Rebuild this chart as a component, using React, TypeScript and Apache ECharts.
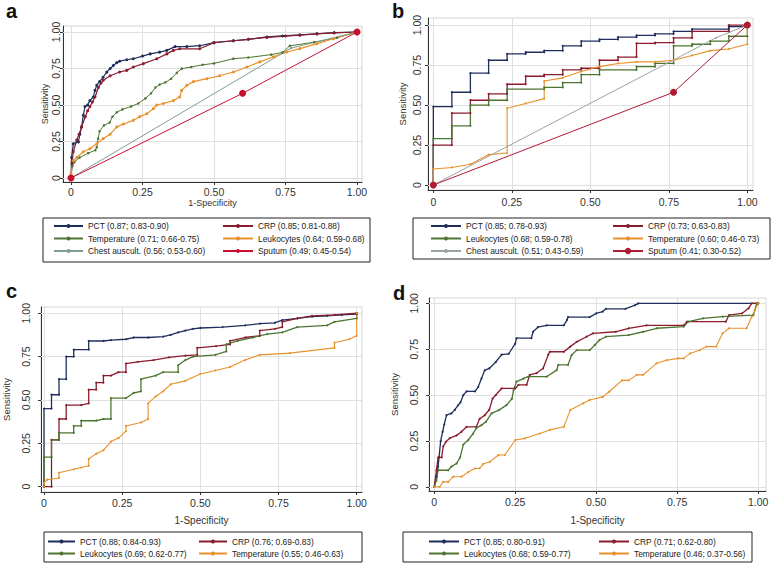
import React, { useEffect, useRef } from "react";
import * as echarts from "echarts";

type P = [number, number];

const FONT = "'Liberation Sans', Arial, Helvetica, sans-serif";

const tickValues = [0, 0.25, 0.5, 0.75, 1];
const tickLabels = ["0", "0.25", "0.50", "0.75", "1.00"];
const xTitle = "1-Specificity";
const yTitle = "Sensitivity";

// ---------- Panel a ----------
const aNames = [
  "PCT (0.87; 0.83-0.90)",
  "CRP (0.85; 0.81-0.88)",
  "Temperature (0.71; 0.66-0.75)",
  "Leukocytes (0.64; 0.59-0.68)",
  "Chest auscult. (0.56; 0.53-0.60)",
  "Sputum (0.49; 0.45-0.54)",
];
const aPCT: P[] = [[0,0],[0.002,0.14],[0.008,0.235],[0.026,0.247],[0.031,0.3],[0.037,0.35],[0.043,0.43],[0.049,0.49],[0.058,0.5],[0.066,0.53],[0.078,0.555],[0.084,0.6],[0.09,0.635],[0.1,0.66],[0.112,0.69],[0.125,0.725],[0.137,0.75],[0.148,0.77],[0.16,0.79],[0.17,0.8],[0.195,0.81],[0.218,0.817],[0.25,0.835],[0.277,0.85],[0.31,0.862],[0.335,0.874],[0.364,0.9],[0.405,0.9],[0.45,0.906],[0.5,0.927],[0.568,0.94],[0.62,0.95],[0.685,0.966],[0.74,0.973],[0.8,0.98],[0.86,0.988],[0.92,0.995],[1,1]];
const aCRP: P[] = [[0,0],[0.003,0.1],[0.008,0.18],[0.02,0.26],[0.028,0.3],[0.037,0.35],[0.05,0.42],[0.058,0.46],[0.066,0.49],[0.075,0.52],[0.084,0.555],[0.096,0.62],[0.105,0.65],[0.113,0.67],[0.137,0.7],[0.17,0.726],[0.195,0.737],[0.218,0.76],[0.253,0.783],[0.3,0.817],[0.335,0.85],[0.358,0.874],[0.38,0.885],[0.45,0.885],[0.5,0.927],[0.568,0.94],[0.62,0.95],[0.685,0.963],[0.75,0.972],[0.8,0.978],[0.86,0.987],[0.92,0.994],[1,1]];
const aTemp: P[] = [[0,0.02],[0.005,0.08],[0.012,0.11],[0.03,0.14],[0.06,0.17],[0.085,0.19],[0.09,0.21],[0.095,0.27],[0.1,0.32],[0.115,0.36],[0.135,0.38],[0.145,0.42],[0.16,0.45],[0.18,0.47],[0.21,0.49],[0.235,0.51],[0.26,0.545],[0.28,0.58],[0.295,0.62],[0.31,0.64],[0.33,0.655],[0.35,0.68],[0.37,0.72],[0.387,0.749],[0.42,0.76],[0.46,0.775],[0.5,0.785],[0.568,0.817],[0.62,0.825],[0.7,0.845],[0.74,0.86],[0.765,0.905],[0.85,0.93],[0.93,0.96],[1,1]];
const aLeuk: P[] = [[0,0.03],[0.008,0.12],[0.02,0.14],[0.043,0.18],[0.066,0.2],[0.09,0.235],[0.113,0.27],[0.137,0.3],[0.16,0.35],[0.183,0.37],[0.218,0.395],[0.24,0.42],[0.265,0.44],[0.288,0.475],[0.3,0.5],[0.323,0.51],[0.358,0.53],[0.38,0.555],[0.387,0.6],[0.405,0.635],[0.428,0.66],[0.475,0.68],[0.52,0.7],[0.568,0.726],[0.615,0.76],[0.66,0.795],[0.708,0.83],[0.755,0.863],[0.8,0.886],[0.86,0.92],[0.918,0.954],[1,1]];
const aChest: P[] = [[0,0],[0.77,0.89],[1,1]];
const aSputum: P[] = [[0,0],[0.6,0.58],[1,1]];

// ---------- Panel b ----------
const bNames = [
  "PCT (0.85; 0.78-0.93)",
  "CRP (0.73; 0.63-0.83)",
  "Leukocytes (0.68; 0.59-0.78)",
  "Temperature (0.60; 0.46-0.73)",
  "Chest auscult. (0.51; 0.43-0.59)",
  "Sputum (0.41; 0.30-0.52)",
];
const bPCT: P[] = [[0,0],[0,0.49],[0.059,0.49],[0.059,0.58],[0.118,0.58],[0.118,0.7],[0.176,0.7],[0.176,0.78],[0.235,0.78],[0.235,0.82],[0.294,0.82],[0.294,0.83],[0.353,0.83],[0.353,0.84],[0.412,0.84],[0.412,0.87],[0.471,0.87],[0.471,0.9],[0.529,0.9],[0.529,0.91],[0.588,0.91],[0.588,0.925],[0.647,0.925],[0.647,0.935],[0.706,0.935],[0.706,0.945],[0.765,0.945],[0.765,0.96],[0.824,0.96],[0.824,0.975],[0.941,0.975],[0.941,0.99],[1,0.99],[1,1]];
const bCRP: P[] = [[0,0],[0,0.25],[0.059,0.25],[0.059,0.45],[0.118,0.45],[0.118,0.53],[0.176,0.53],[0.176,0.57],[0.235,0.57],[0.235,0.63],[0.294,0.63],[0.294,0.68],[0.353,0.68],[0.353,0.69],[0.412,0.69],[0.412,0.72],[0.471,0.72],[0.471,0.73],[0.529,0.73],[0.529,0.78],[0.588,0.78],[0.588,0.8],[0.647,0.8],[0.647,0.885],[0.706,0.885],[0.706,0.89],[0.765,0.89],[0.765,0.92],[0.824,0.92],[0.824,0.96],[0.941,0.96],[0.941,1],[1,1]];
const bLeuk: P[] = [[0,0],[0,0.29],[0.059,0.29],[0.059,0.37],[0.118,0.37],[0.118,0.5],[0.176,0.5],[0.176,0.53],[0.235,0.53],[0.235,0.6],[0.353,0.6],[0.353,0.61],[0.412,0.61],[0.412,0.64],[0.471,0.64],[0.471,0.69],[0.529,0.69],[0.529,0.72],[0.647,0.72],[0.647,0.74],[0.706,0.74],[0.706,0.76],[0.765,0.76],[0.765,0.87],[0.824,0.87],[0.824,0.88],[0.882,0.88],[0.882,0.9],[0.941,0.9],[0.941,0.93],[1,0.93],[1,1]];
const bTemp: P[] = [[0,0],[0,0.1],[0.059,0.11],[0.118,0.13],[0.176,0.19],[0.235,0.2],[0.235,0.48],[0.294,0.51],[0.353,0.54],[0.353,0.65],[0.412,0.67],[0.471,0.71],[0.529,0.74],[0.588,0.76],[0.647,0.77],[0.706,0.77],[0.765,0.78],[0.824,0.81],[0.882,0.84],[0.941,0.85],[1,0.88],[1,1]];
const bChest: P[] = [[0,0],[0.9,0.92],[1,1]];
const bSputum: P[] = [[0,0],[0.765,0.58],[1,1]];

// ---------- Panel c ----------
const cNames = [
  "PCT (0.88; 0.84-0.93)",
  "CRP (0.76; 0.69-0.83)",
  "Leukocytes (0.69; 0.62-0.77)",
  "Temperature (0.55; 0.46-0.63)",
];
const cPCT: P[] = [[0,0],[0,0.45],[0.024,0.45],[0.024,0.53],[0.048,0.53],[0.048,0.62],[0.071,0.62],[0.071,0.75],[0.095,0.75],[0.095,0.79],[0.143,0.79],[0.143,0.84],[0.19,0.84],[0.214,0.845],[0.262,0.85],[0.286,0.86],[0.333,0.86],[0.381,0.865],[0.405,0.875],[0.429,0.89],[0.452,0.9],[0.476,0.91],[0.5,0.915],[0.571,0.92],[0.643,0.93],[0.69,0.94],[0.738,0.945],[0.762,0.96],[0.81,0.97],[0.857,0.98],[0.905,0.985],[0.952,0.99],[1,0.995],[1,1]];
const cCRP: P[] = [[0,0],[0.024,0],[0.024,0.27],[0.048,0.27],[0.048,0.39],[0.071,0.39],[0.071,0.47],[0.119,0.47],[0.143,0.48],[0.143,0.56],[0.167,0.56],[0.167,0.6],[0.19,0.6],[0.19,0.64],[0.214,0.64],[0.238,0.66],[0.262,0.66],[0.262,0.71],[0.3,0.72],[0.35,0.73],[0.4,0.745],[0.452,0.755],[0.49,0.76],[0.49,0.8],[0.55,0.81],[0.595,0.82],[0.595,0.84],[0.643,0.86],[0.69,0.87],[0.69,0.9],[0.738,0.91],[0.762,0.92],[0.762,0.95],[0.81,0.97],[0.857,0.985],[0.929,0.99],[1,1]];
const cLeuk: P[] = [[0,0],[0,0.17],[0.024,0.17],[0.024,0.27],[0.048,0.27],[0.048,0.31],[0.095,0.31],[0.095,0.35],[0.119,0.35],[0.119,0.38],[0.167,0.38],[0.19,0.39],[0.214,0.39],[0.214,0.51],[0.262,0.51],[0.286,0.54],[0.31,0.55],[0.31,0.62],[0.357,0.64],[0.381,0.66],[0.429,0.66],[0.429,0.7],[0.452,0.73],[0.476,0.75],[0.548,0.76],[0.583,0.78],[0.583,0.82],[0.619,0.84],[0.667,0.86],[0.714,0.88],[0.762,0.89],[0.81,0.92],[0.905,0.93],[0.929,0.95],[1,0.97],[1,1]];
const cTemp: P[] = [[0,0],[0,0.02],[0.01,0.04],[0.048,0.05],[0.048,0.08],[0.095,0.1],[0.119,0.11],[0.143,0.12],[0.143,0.16],[0.167,0.19],[0.19,0.21],[0.214,0.26],[0.238,0.28],[0.262,0.32],[0.262,0.35],[0.31,0.37],[0.333,0.39],[0.333,0.48],[0.357,0.52],[0.381,0.55],[0.405,0.59],[0.452,0.61],[0.5,0.65],[0.548,0.67],[0.595,0.69],[0.643,0.73],[0.69,0.76],[0.786,0.77],[0.929,0.8],[0.929,0.83],[0.976,0.85],[1,0.87],[1,1]];

// ---------- Panel d ----------
const dNames = [
  "PCT (0.85; 0.80-0.91)",
  "CRP (0.71; 0.62-0.80)",
  "Leukocytes (0.68; 0.59-0.77)",
  "Temperature (0.46; 0.37-0.56)",
];
const dPCT: P[] = [[0,0],[0.007,0.055],[0.012,0.11],[0.015,0.16],[0.02,0.25],[0.026,0.3],[0.031,0.34],[0.038,0.39],[0.053,0.4],[0.064,0.42],[0.074,0.445],[0.081,0.46],[0.09,0.5],[0.1,0.52],[0.126,0.52],[0.136,0.545],[0.146,0.59],[0.156,0.635],[0.17,0.645],[0.19,0.68],[0.208,0.72],[0.23,0.725],[0.25,0.78],[0.254,0.81],[0.3,0.81],[0.305,0.845],[0.32,0.87],[0.347,0.88],[0.4,0.88],[0.41,0.91],[0.413,0.925],[0.48,0.925],[0.5,0.945],[0.52,0.955],[0.53,0.97],[0.59,0.97],[0.62,0.99],[0.63,1],[1,1]];
const dCRP: P[] = [[0,0],[0.007,0.09],[0.012,0.16],[0.023,0.16],[0.028,0.22],[0.036,0.245],[0.048,0.265],[0.069,0.28],[0.084,0.3],[0.1,0.327],[0.13,0.327],[0.14,0.37],[0.156,0.39],[0.17,0.42],[0.18,0.48],[0.19,0.5],[0.208,0.536],[0.25,0.536],[0.26,0.555],[0.285,0.555],[0.295,0.61],[0.316,0.62],[0.336,0.645],[0.352,0.72],[0.357,0.736],[0.4,0.736],[0.42,0.764],[0.44,0.79],[0.47,0.818],[0.49,0.836],[0.56,0.845],[0.6,0.864],[0.655,0.88],[0.77,0.88],[0.78,0.9],[0.9,0.9],[0.91,0.936],[0.95,0.945],[0.97,0.973],[0.98,1],[1,1]];
const dLeuk: P[] = [[0,0],[0.007,0.036],[0.012,0.09],[0.043,0.09],[0.053,0.11],[0.069,0.127],[0.08,0.16],[0.09,0.23],[0.105,0.255],[0.12,0.29],[0.13,0.32],[0.146,0.336],[0.16,0.355],[0.177,0.4],[0.2,0.418],[0.223,0.445],[0.24,0.48],[0.245,0.527],[0.254,0.573],[0.275,0.59],[0.29,0.6],[0.347,0.6],[0.378,0.636],[0.383,0.664],[0.413,0.664],[0.424,0.718],[0.44,0.745],[0.48,0.745],[0.496,0.773],[0.51,0.8],[0.53,0.818],[0.6,0.827],[0.645,0.845],[0.686,0.864],[0.77,0.873],[0.784,0.9],[0.83,0.918],[0.89,0.927],[0.985,0.936],[0.99,0.964],[0.995,1],[1,1]];
const dTemp: P[] = [[0,0],[0.017,0],[0.028,0.027],[0.043,0.027],[0.059,0.055],[0.084,0.055],[0.105,0.08],[0.126,0.1],[0.14,0.1],[0.151,0.124],[0.172,0.136],[0.198,0.173],[0.218,0.173],[0.25,0.255],[0.28,0.264],[0.326,0.29],[0.357,0.31],[0.4,0.327],[0.42,0.418],[0.46,0.455],[0.48,0.473],[0.52,0.49],[0.54,0.518],[0.58,0.58],[0.6,0.58],[0.625,0.61],[0.645,0.61],[0.686,0.673],[0.717,0.69],[0.753,0.7],[0.77,0.7],[0.79,0.727],[0.82,0.745],[0.84,0.764],[0.87,0.764],[0.89,0.836],[0.91,0.864],[0.964,0.864],[0.98,0.927],[0.99,0.964],[1,1]];

const C = {
  navy: "#1f2f5c",
  maroon: "#8a1c2e",
  green: "#4d7531",
  orange: "#e8912a",
  teal: "#7f9f8e",
  red: "#c8102e",
  gray: "#9aa4a4",
  dkred: "#b01a32",
};

const TICK_FS = 10.5;
const LEG_FS = 8.4;

const fmt = (v: number) => {
  const i = tickValues.findIndex((t) => Math.abs(t - v) < 1e-6);
  return i >= 0 ? tickLabels[i] : "";
};

function xAx(gi: number, min: number, max: number, margin: number, name: string, nameGap: number, nameSize: number) {
  return {
    type: "value", gridIndex: gi, min, max,
    axisLine: { show: true, onZero: false, lineStyle: { color: "#333", width: 1 } },
    axisTick: { show: true, customValues: tickValues, length: 3, lineStyle: { color: "#333" } },
    axisLabel: { show: true, customValues: tickValues, formatter: fmt, fontSize: TICK_FS, color: "#333", margin, fontFamily: FONT },
    splitLine: { show: false },
    name, nameLocation: "middle", nameGap,
    nameTextStyle: { fontSize: nameSize, color: "#333", fontFamily: FONT },
  };
}
function yAx(gi: number, min: number, max: number, margin: number, nameGap: number, nameSize: number) {
  return {
    type: "value", gridIndex: gi, min, max,
    axisLine: { show: true, onZero: false, lineStyle: { color: "#333", width: 1 } },
    axisTick: { show: true, customValues: tickValues, length: 3, lineStyle: { color: "#333" } },
    axisLabel: { show: true, customValues: tickValues, formatter: fmt, fontSize: TICK_FS, color: "#333", margin, rotate: 90, fontFamily: FONT },
    splitLine: { show: false },
    name: yTitle, nameLocation: "middle", nameGap, nameRotate: 90,
    nameTextStyle: { fontSize: nameSize, color: "#333", fontFamily: FONT },
  };
}

function curve(name: string, data: P[], gi: number, color: string, width: number, sym: number) {
  return {
    type: "line", name, data, xAxisIndex: gi, yAxisIndex: gi,
    color, symbol: "circle", symbolSize: sym, showSymbol: true,
    lineStyle: { width, color }, itemStyle: { color }, z: 10, silent: true,
  };
}

function gridLines(gi: number) {
  return {
    type: "line", name: "gridlines" + gi, data: [[0.5, 0.5]], xAxisIndex: gi, yAxisIndex: gi,
    symbol: "none", lineStyle: { opacity: 0 }, z: 1, silent: true,
    markLine: {
      silent: true, symbol: ["none", "none"], label: { show: false },
      lineStyle: { color: "#e0e0e0", width: 1, type: "solid" },
      emphasis: { disabled: true },
      data: [
        ...tickValues.map((v) => ({ xAxis: v })),
        ...tickValues.map((v) => ({ yAxis: v })),
      ],
    },
  };
}

function legendCol(names: string[], left: number, top: number, itemWidth: number, lineHeight: number, itemHeight = 5) {
  return {
    orient: "vertical", left, top, padding: 0, itemGap: 0, itemWidth, itemHeight,
    selectedMode: false, data: names,
    textStyle: { fontSize: LEG_FS, color: "#222", fontFamily: FONT, lineHeight },
  };
}

function panelTitle(text: string, left: number, top: number) {
  return { text, left, top, padding: 0, textStyle: { fontSize: 20, fontWeight: "bold", color: "#111", fontFamily: FONT } };
}

function box(x: number, y: number, w: number, h: number) {
  return { type: "rect", silent: true, shape: { x, y, width: w, height: h }, style: { fill: "none", stroke: "#222", lineWidth: 1 } };
}

export default function App() {
  const ref = useRef<HTMLDivElement>(null);
  useEffect(() => {
    if (!ref.current) return;
    const chart = echarts.init(ref.current, undefined, { renderer: "svg" });
    const gridStyle = { show: true, borderColor: "#d6d6d6", borderWidth: 1, backgroundColor: "transparent" };
    const option: any = {
      animation: false,
      backgroundColor: "#ffffff",
      textStyle: { fontFamily: FONT },
      title: [
        panelTitle("a", 6, 1),
        panelTitle("b", 392, 1),
        panelTitle("c", 6, 281),
        panelTitle("d", 393, 283),
      ],
      grid: [
        { left: 63, top: 26, width: 299, height: 156, ...gridStyle },
        { left: 428, top: 18, width: 325, height: 172, ...gridStyle },
        { left: 41, top: 307, width: 321, height: 185, ...gridStyle },
        { left: 429, top: 298, width: 337, height: 193, ...gridStyle },
      ],
      xAxis: [
        xAx(0, -0.028, 1.0175, 4, xTitle, 16, 9),
        xAx(1, -0.017, 1.018, 6, "", 20, 9.5),
        xAx(2, -0.0096, 1.017, 5, xTitle, 23, 10),
        xAx(3, -0.016, 1.024, 5.5, xTitle, 24, 10),
      ],
      yAxis: [
        yAx(0, -0.0274, 1.041, 1.5, 14, 9),
        yAx(1, -0.031, 1.044, 6, 21, 9.5),
        yAx(2, -0.031, 1.036, 9.5, 29.5, 9.5),
        yAx(3, -0.023, 1.029, 9.5, 29.5, 9.5),
      ],
      legend: [
        legendCol([aNames[0], aNames[2], aNames[4]], 53, 219.75, 29, 12.5),
        legendCol([aNames[1], aNames[3], aNames[5]], 222, 219.75, 30, 12.5),
        legendCol([bNames[0], bNames[2], bNames[4]], 430, 219.75, 30, 12.5),
        legendCol([bNames[1], bNames[3]], 612, 219.75, 30, 12.5),
        legendCol([bNames[5]], 612, 244.75, 30, 12.5, 8),
        legendCol([cNames[0], cNames[2]], 47, 535.5, 27, 12),
        legendCol([cNames[1], cNames[3]], 198, 535.5, 28, 12),
        legendCol([dNames[0], dNames[2]], 428, 535.5, 30, 12),
        legendCol([dNames[1], dNames[3]], 598, 535.5, 30, 12),
      ],
      graphic: [
        box(43, 218, 327, 44),
        box(413, 218, 357, 41),
        box(44, 532, 318, 30),
        box(403, 532, 349, 30),
      ],
      series: [
        gridLines(0), gridLines(1), gridLines(2), gridLines(3),
        curve(aNames[0], aPCT, 0, C.navy, 1.2, 3),
        curve(aNames[1], aCRP, 0, C.maroon, 1.2, 3),
        curve(aNames[2], aTemp, 0, C.green, 1, 2.5),
        curve(aNames[3], aLeuk, 0, C.orange, 1.2, 3),
        curve(aNames[4], aChest, 0, C.teal, 1, 2.5),
        curve(aNames[5], aSputum, 0, C.red, 1, 7),
        curve(bNames[0], bPCT, 1, C.navy, 1.3, 2),
        curve(bNames[1], bCRP, 1, C.maroon, 1.3, 2),
        curve(bNames[2], bLeuk, 1, C.green, 1.3, 2),
        curve(bNames[3], bTemp, 1, C.orange, 1.1, 2),
        curve(bNames[4], bChest, 1, C.gray, 1, 2),
        curve(bNames[5], bSputum, 1, C.dkred, 1, 7),
        curve(cNames[0], cPCT, 2, C.navy, 1.3, 2),
        curve(cNames[1], cCRP, 2, C.maroon, 1.3, 2),
        curve(cNames[2], cLeuk, 2, C.green, 1.3, 2),
        curve(cNames[3], cTemp, 2, C.orange, 1.1, 2),
        curve(dNames[0], dPCT, 3, C.navy, 1.3, 2),
        curve(dNames[1], dCRP, 3, C.maroon, 1.3, 2),
        curve(dNames[2], dLeuk, 3, C.green, 1.3, 2),
        curve(dNames[3], dTemp, 3, C.orange, 1.1, 2),
      ],
    };
    chart.setOption(option);
    return () => chart.dispose();
  }, []);
  return (
    <div
      ref={ref}
      style={{ position: "fixed", left: 0, top: 0, width: 778, height: 571, background: "#fff" }}
    />
  );
}
